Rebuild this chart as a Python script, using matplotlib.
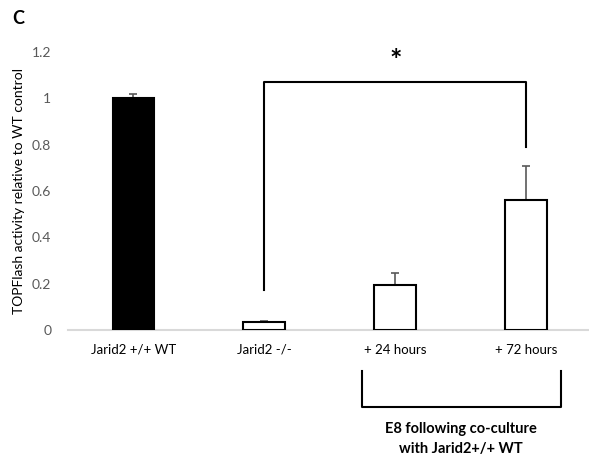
import matplotlib
matplotlib.use("Agg")
import matplotlib.pyplot as plt

# data
groups = ["Jarid2 +/+ WT", "Jarid2 -/-", "+ 24 hours", "+ 72 hours"]
values = [1.0, 0.035, 0.195, 0.563]
errors = [0.02, 0.003, 0.053, 0.143]
colors = ["black", "white", "white", "white"]
yticks = [0, 0.2, 0.4, 0.6, 0.8, 1, 1.2]

plt.rcParams["font.family"] = ["Lato", "DejaVu Sans"]

fig = plt.figure(figsize=(5.89, 4.61), dpi=100)
ax = fig.add_axes([68 / 589, 1 - 330 / 461, 1 - 68 / 589, (330 - 52) / 461])

x = range(len(groups))
ax.bar(x, values, width=0.32, color=colors, edgecolor="black", linewidth=1.5, zorder=3)
ax.errorbar(x, values, yerr=[[0] * len(errors), errors], fmt="none",
            ecolor="#595959", elinewidth=1.2, capsize=3, capthick=1.2, zorder=2)

ax.set_xlim(-0.5, 3.48)
ax.set_ylim(0, 1.2)
ax.set_xticks(list(x))
ax.set_xticklabels(groups, fontsize=9.5, color="black")
ax.set_yticks(yticks)
ax.set_yticklabels([f"{t:g}" for t in yticks], fontsize=10, color="#595959")
ax.tick_params(length=0, pad=12)
ax.tick_params(axis="x", pad=10)
for s in ["top", "right", "left"]:
    ax.spines[s].set_visible(False)
ax.spines["bottom"].set_color("#d9d9d9")
ax.spines["bottom"].set_linewidth(1.5)
ax.set_ylabel("TOPFlash activity relative to WT control", fontsize=10, labelpad=5)

# significance bracket
ax.plot([1, 1, 3, 3], [0.173, 1.069, 1.069, 0.788], color="black", lw=1.5, clip_on=False)
ax.text(2, 1.16, "*", ha="center", va="center", fontsize=21, fontweight="bold")

# lower group bracket
ax.plot([1.744, 1.744, 3.263, 3.263], [-0.177, -0.333, -0.333, -0.177],
        color="black", lw=1.5, clip_on=False)
ax.text(2.5, -0.47, "E8 following co-culture\nwith Jarid2+/+ WT", ha="center", va="center",
        fontsize=10.5, fontweight="bold", linespacing=1.5)

fig.text(12 / 589, 1 - 18 / 461, "C", fontsize=13, fontweight="bold", va="center")

fig.savefig("out.png", dpi=100)
